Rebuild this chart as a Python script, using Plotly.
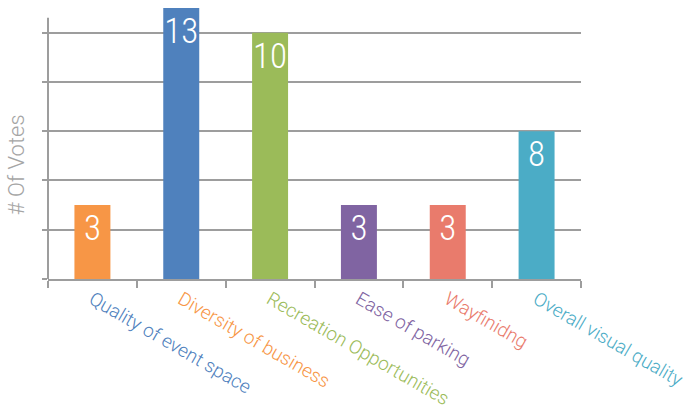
import plotly.graph_objects as go

categories = ["Quality of event space", "Diversity of business", "Recreation Opportunities",
              "Ease of parking", "Wayfinidng", "Overall visual quality"]
votes = [3, 13, 10, 3, 3, 8]
# bar heights as drawn in the picture (in gridline units)
bar_heights = [1.5, 5.5, 5.0, 1.5, 1.5, 3.0]
bar_colors = ["#F79646", "#4F81BD", "#9BBB59", "#8064A2", "#E97B6C", "#4BACC6"]
label_colors = ["#4F81BD", "#F79646", "#9BBB59", "#8064A2", "#E97B6C", "#4BACC6"]

grid_gray = "#9d9d9d"
axis_top = 5.3

fig = go.Figure(go.Bar(
    x=categories, y=bar_heights, marker=dict(color=bar_colors, line=dict(width=0)),
    text=[str(v) for v in votes], textposition="inside", insidetextanchor="end",
    textangle=0, constraintext="none",
    textfont=dict(family="Roboto Condensed, Roboto", size=35, color="white", weight=300),
    hoverinfo="skip",
))

ticktext = [f'<span style="color:{c}">{t}</span>' for t, c in zip(categories, label_colors)]

fig.update_layout(
    width=699, height=411,
    margin=dict(l=48, r=118, t=8, b=132),
    paper_bgcolor="white", plot_bgcolor="white",
    bargap=0.595, showlegend=False,
    font=dict(family="Roboto", weight=300),
    xaxis=dict(
        tickmode="array", tickvals=categories, ticktext=ticktext, tickangle=30,
        tickfont=dict(family="Roboto", size=19, weight=300), automargin=False,
        showline=True, linecolor=grid_gray, linewidth=2,
        ticks="outside", tickson="boundaries", ticklen=7, tickwidth=2, tickcolor=grid_gray,
        showgrid=False,
    ),
    yaxis=dict(
        range=[0, 5.5], tickvals=[0, 1, 2, 3, 4, 5], showticklabels=False, automargin=False,
        showgrid=True, gridcolor=grid_gray, gridwidth=2,
        showline=False,
        ticks="outside", ticklen=5, tickwidth=2, tickcolor=grid_gray,
        zeroline=False,
    ),
    shapes=[dict(type="line", xref="paper", yref="y", x0=0, x1=0, y0=0, y1=axis_top,
                 line=dict(color=grid_gray, width=2), layer="below")],
    annotations=[dict(
        text="# Of Votes", xref="paper", yref="paper", x=-0.06, y=0.42,
        textangle=-90, showarrow=False, xanchor="center", yanchor="middle",
        font=dict(family="Roboto", size=22, color="#a5a5a5", weight=300),
    )],
)

fig.write_html("out.html", post_script="document.body.style.margin='0';",
               config={"displayModeBar": False})
